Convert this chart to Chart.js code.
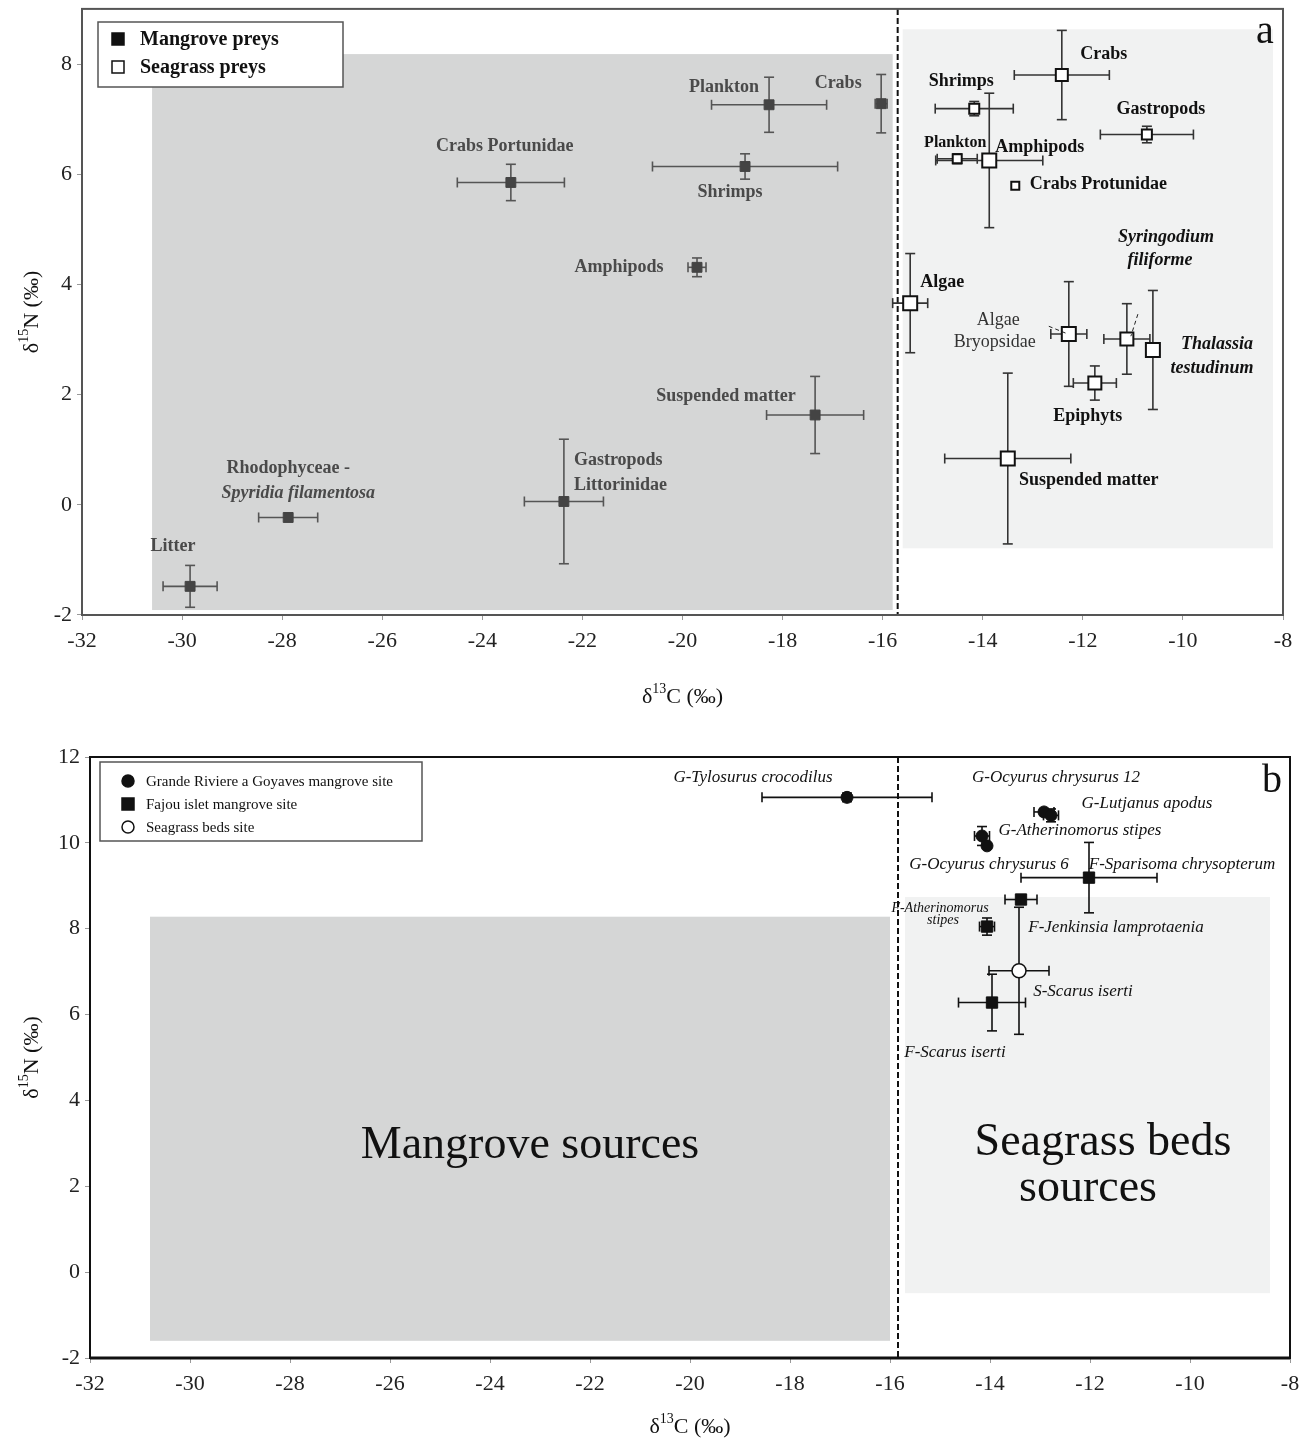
<!DOCTYPE html>
<html lang="en">
<head>
<meta charset="UTF-8">
<title>Isotope biplots</title>
<script src="https://cdn.jsdelivr.net/npm/chart.js"></script>
<style>
  body { margin: 0; background: #fff; overflow: hidden; }
  .wrap { position: absolute; left: 0; width: 1299px; }
  /* panel a is lifted 3px: Chart.js keeps room for the largest marker above the plot */
  #wa { top: -3px; height: 720px; }
  #wb { top: 720px; height: 723px; }
</style>
</head>
<body>
<div class="wrap" id="wa"><canvas id="chartA" width="1299" height="720"></canvas></div>
<div class="wrap" id="wb"><canvas id="chartB" width="1299" height="723"></canvas></div>
<script>
// ---- panel a : potential preys ----
const mangNames = ['Litter', 'Rhodophyceae - Spyridia filamentosa', 'Gastropods Littorinidae', 'Amphipods',
                   'Crabs Portunidae', 'Shrimps', 'Plankton', 'Crabs', 'Suspended matter'];
const mangC   = [-29.84, -27.88, -22.37, -19.71, -23.43, -18.75, -18.27, -16.03, -17.35];
const mangN   = [-1.48, -0.23, 0.06, 4.31, 5.85, 6.14, 7.26, 7.28, 1.63];
const mangCsd = [0.54, 0.59, 0.79, 0.18, 1.07, 1.85, 1.15, 0.12, 0.97];
const mangNsd = [0.38, 0, 1.13, 0.17, 0.33, 0.23, 0.5, 0.53, 0.7];

const seaNames = ['Crabs', 'Shrimps', 'Gastropods', 'Plankton', 'Amphipods', 'Crabs Protunidae', 'Algae',
                  'Algae Bryopsidae', 'Syringodium filiforme', 'Thalassia testudinum', 'Epiphyts', 'Suspended matter'];
const seaC   = [-12.42, -14.17, -10.72, -14.51, -13.87, -13.35, -15.45, -12.28, -11.12, -10.6, -11.76, -13.5];
const seaN   = [7.80, 7.19, 6.72, 6.28, 6.25, 5.79, 3.66, 3.10, 3.01, 2.81, 2.21, 0.84];
const seaCsd = [0.95, 0.78, 0.93, 0.4, 1.07, 0, 0.35, 0.36, 0.46, 0.1, 0.43, 1.26];
const seaNsd = [0.81, 0.13, 0.15, 0.09, 1.22, 0, 0.9, 0.95, 0.64, 1.08, 0.31, 1.55];
const seaSize = [12, 10, 10, 9, 14, 8, 14, 14, 13, 14, 13, 14];   // marker side, px

// ---- panel b : fishes ----
const gNames = ['G-Tylosurus crocodilus', 'G-Ocyurus chrysurus 12', 'G-Lutjanus apodus',
                'G-Atherinomorus stipes', 'G-Ocyurus chrysurus 6'];
const gC   = [-16.86, -12.92, -12.78, -14.16, -14.06];
const gN   = [11.06, 10.72, 10.64, 10.16, 9.93];
const gCsd = [1.7, 0.2, 0.15, 0.15, 0.05];
const gNsd = [0.1, 0.08, 0.15, 0.22, 0.05];

const fNames = ['F-Sparisoma chrysopterum', 'F-Jenkinsia lamprotaenia', 'F-Atherinomorus stipes', 'F-Scarus iserti'];
const fC   = [-12.02, -13.38, -14.06, -13.96];
const fN   = [9.19, 8.68, 8.05, 6.28];
const fCsd = [1.36, 0.32, 0.15, 0.67];
const fNsd = [0.82, 0.08, 0.2, 0.66];

const sNames = ['S-Scarus iserti'];
const sC   = [-13.42];
const sN   = [7.02];
const sCsd = [0.6];
const sNsd = [1.48];

const xTicks = [-32, -30, -28, -26, -24, -22, -20, -18, -16, -14, -12, -10, -8];

const SERIF = '"Liberation Serif", "DejaVu Serif", serif';

function pts(xs, ys) { return xs.map((v, i) => ({ x: v, y: ys[i] })); }

function line(ctx, x0, y0, x1, y1) {
  ctx.beginPath(); ctx.moveTo(x0, y0); ctx.lineTo(x1, y1); ctx.stroke();
}

// superscripted axis title, e.g. δ^13C (‰)
function supTitle(ctx, pre, sup, post, cx, cy, rot, size) {
  ctx.save();
  ctx.translate(cx, cy);
  if (rot) ctx.rotate(-Math.PI / 2);
  ctx.fillStyle = '#111';
  ctx.textBaseline = 'alphabetic';
  ctx.textAlign = 'left';
  const big = size + 'px ' + SERIF, small = Math.round(size * 0.62) + 'px ' + SERIF;
  ctx.font = big; const w1 = ctx.measureText(pre).width, w3 = ctx.measureText(post).width;
  ctx.font = small; const w2 = ctx.measureText(sup).width;
  let x = -(w1 + w2 + w3) / 2;
  const base = size * 0.35;
  ctx.font = big; ctx.fillText(pre, x, base); x += w1;
  ctx.font = small; ctx.fillText(sup, x, base - size * 0.42); x += w2;
  ctx.font = big; ctx.fillText(post, x, base);
  ctx.restore();
}

const isoPlugin = {
  id: 'iso',
  beforeDatasetsDraw(chart, args, o) {
    const { ctx, chartArea: a, scales: { x, y } } = chart;
    ctx.save();
    o.boxes.forEach(b => {
      const x0 = x.getPixelForValue(b.x0), x1 = x.getPixelForValue(b.x1);
      const y0 = y.getPixelForValue(b.y0), y1 = y.getPixelForValue(b.y1);
      ctx.fillStyle = b.color;
      ctx.fillRect(x0, y1, x1 - x0, y0 - y1);
    });
    // divider
    const dx = x.getPixelForValue(o.divider);
    ctx.strokeStyle = '#111'; ctx.lineWidth = 2; ctx.setLineDash([6, 3]);
    line(ctx, dx, a.top, dx, a.bottom);
    ctx.setLineDash([]);
    // error bars
    chart.data.datasets.forEach(ds => {
      if (!ds.errX) return;
      ctx.strokeStyle = ds.errColor; ctx.lineWidth = 1.6;
      ds.data.forEach((p, i) => {
        const px = x.getPixelForValue(p.x), py = y.getPixelForValue(p.y);
        const ex = ds.errX[i], ey = ds.errY[i], c = 5;
        if (ex) {
          const l = x.getPixelForValue(p.x - ex), r = x.getPixelForValue(p.x + ex);
          line(ctx, l, py, r, py); line(ctx, l, py - c, l, py + c); line(ctx, r, py - c, r, py + c);
        }
        if (ey) {
          const t = y.getPixelForValue(p.y + ey), b = y.getPixelForValue(p.y - ey);
          line(ctx, px, t, px, b); line(ctx, px - c, t, px + c, t); line(ctx, px - c, b, px + c, b);
        }
      });
    });
    ctx.restore();
  },
  afterDatasetsDraw(chart, args, o) {
    const { ctx, chartArea: a, scales: { x, y } } = chart;
    ctx.save();
    // leader lines
    ctx.strokeStyle = '#222'; ctx.lineWidth = 1; ctx.setLineDash([4, 3]);
    (o.leaders || []).forEach(l => line(ctx, x.getPixelForValue(l[0]), y.getPixelForValue(l[1]),
                                          x.getPixelForValue(l[2]), y.getPixelForValue(l[3])));
    ctx.setLineDash([]);
    // point labels
    ctx.textBaseline = 'middle';
    o.labels.forEach(l => {
      ctx.font = l.f; ctx.fillStyle = l.c || '#111'; ctx.textAlign = l.al || 'center';
      ctx.fillText(l.t, x.getPixelForValue(l.x), y.getPixelForValue(l.y));
    });
    // legend box
    const lg = o.legend;
    ctx.fillStyle = '#fff'; ctx.fillRect(lg.x, lg.y, lg.w, lg.h);
    ctx.strokeStyle = '#555'; ctx.lineWidth = 1.5; ctx.strokeRect(lg.x, lg.y, lg.w, lg.h);
    lg.items.forEach((it, i) => {
      const cy = lg.y + lg.first + i * lg.gap, cx = lg.x + lg.mx;
      ctx.fillStyle = it.fill; ctx.strokeStyle = '#111'; ctx.lineWidth = 1.5;
      ctx.beginPath();
      if (it.shape === 'circle') ctx.arc(cx, cy, lg.ms / 2, 0, Math.PI * 2);
      else ctx.rect(cx - lg.ms / 2, cy - lg.ms / 2, lg.ms, lg.ms);
      ctx.fill(); ctx.stroke();
      ctx.font = lg.font; ctx.fillStyle = '#111'; ctx.textAlign = 'left';
      ctx.fillText(it.t, lg.x + lg.tx, cy + 1);
    });
    // panel letter
    ctx.font = '40px ' + SERIF; ctx.fillStyle = '#111'; ctx.textAlign = 'center';
    ctx.fillText(o.letter, a.right - 18, a.top + 24);
    // frame
    ctx.strokeStyle = o.frame; ctx.lineWidth = 2;
    ctx.strokeRect(a.left, a.top, a.right - a.left, a.bottom - a.top);
    ctx.lineWidth = o.bottomW; line(ctx, a.left, a.bottom, a.right, a.bottom);
    // axis titles
    supTitle(ctx, 'δ', '13', 'C (‰)', (a.left + a.right) / 2, a.bottom + o.xTitleOff, false, 22);
    supTitle(ctx, 'δ', '15', 'N (‰)', 30, (a.top + a.bottom) / 2, true, 22);
    ctx.restore();
  }
};

function scales(yMin, yMax, yWidth, xHeight) {
  const tickFont = { family: SERIF, size: 22 };
  return {
    x: {
      type: 'linear', min: -32, max: -8,
      afterBuildTicks: s => { s.ticks = xTicks.map(v => ({ value: v })); },
      ticks: { font: tickFont, color: '#222', padding: 8, maxRotation: 0, autoSkip: false },
      grid: { drawOnChartArea: false, drawTicks: true, tickLength: 5, color: '#999' },
      border: { display: false },
      afterFit: s => { s.height = xHeight; s.paddingLeft = 0; s.paddingRight = 0; }
    },
    y: {
      type: 'linear', min: yMin, max: yMax,
      ticks: { stepSize: 2, includeBounds: false, font: tickFont, color: '#222', padding: 5 },
      grid: { drawOnChartArea: false, drawTicks: true, tickLength: 5, color: '#999' },
      border: { display: false },
      afterFit: s => { s.width = yWidth; s.paddingTop = 0; s.paddingBottom = 0; }
    }
  };
}

const LA = 'bold 18px ' + SERIF, LAI = 'italic bold 18px ' + SERIF, LR = '18px ' + SERIF;
const GREY = '#4a4a4a';

new Chart(document.getElementById('chartA'), {
  type: 'scatter',
  data: {
    datasets: [
      { label: 'Mangrove preys', data: pts(mangC, mangN), errX: mangCsd, errY: mangNsd, errColor: '#555',
        pointStyle: 'rect', pointRadius: 7, backgroundColor: '#444', borderColor: '#444', borderWidth: 1 },
      { label: 'Seagrass preys', data: pts(seaC, seaN), errX: seaCsd, errY: seaNsd, errColor: '#333',
        pointStyle: 'rect', pointRadius: seaSize.map(s => s / 1.414), backgroundColor: '#fff',
        borderColor: '#111', borderWidth: 2 }
    ]
  },
  options: {
    responsive: false, animation: false, events: [],
    layout: { padding: { top: 5, right: 16, left: 0, bottom: 0 } },
    scales: scales(-2, 9, 82, 102),
    plugins: {
      legend: { display: false }, tooltip: { enabled: false },
      iso: {
        divider: -15.7, letter: 'a', frame: '#555', bottomW: 2, xTitleOff: 80,
        boxes: [
          { x0: -30.6, x1: -15.8, y0: -1.91, y1: 8.18, color: '#d5d6d6' },
          { x0: -15.6, x1: -8.2, y0: -0.79, y1: 8.63, color: '#f1f2f2' }
        ],
        leaders: [[-12.68, 3.24, -12.3, 3.1], [-10.9, 3.46, -11.04, 3.06]],
        labels: [
          { t: 'Plankton', x: -19.17, y: 7.57, f: LA, c: GREY },
          { t: 'Crabs', x: -16.89, y: 7.64, f: LA, c: GREY },
          { t: 'Crabs Portunidae', x: -23.55, y: 6.5, f: LA, c: GREY },
          { t: 'Shrimps', x: -19.05, y: 5.67, f: LA, c: GREY },
          { t: 'Amphipods', x: -21.27, y: 4.31, f: LA, c: GREY },
          { t: 'Suspended matter', x: -19.13, y: 1.96, f: LA, c: GREY },
          { t: 'Gastropods', x: -22.17, y: 0.8, f: LA, c: GREY, al: 'left' },
          { t: 'Littorinidae', x: -22.17, y: 0.35, f: LA, c: GREY, al: 'left' },
          { t: 'Rhodophyceae -', x: -27.88, y: 0.66, f: LA, c: GREY },
          { t: 'Spyridia filamentosa', x: -27.68, y: 0.21, f: LAI, c: GREY },
          { t: 'Litter', x: -30.18, y: -0.75, f: LA, c: GREY },
          { t: 'Crabs', x: -11.58, y: 8.18, f: LA },
          { t: 'Shrimps', x: -14.43, y: 7.69, f: LA },
          { t: 'Gastropods', x: -10.44, y: 7.17, f: LA },
          { t: 'Plankton', x: -14.55, y: 6.57, f: 'bold 16px ' + SERIF },
          { t: 'Amphipods', x: -12.86, y: 6.48, f: LA },
          { t: 'Crabs Protunidae', x: -13.06, y: 5.81, f: LA, al: 'left' },
          { t: 'Syringodium', x: -10.34, y: 4.85, f: LAI },
          { t: 'filiforme', x: -10.46, y: 4.44, f: LAI },
          { t: 'Algae', x: -14.81, y: 4.04, f: LA },
          { t: 'Algae', x: -13.69, y: 3.35, f: LR, c: '#333' },
          { t: 'Bryopsidae', x: -13.76, y: 2.95, f: LR, c: '#333' },
          { t: 'Thalassia', x: -9.32, y: 2.92, f: LAI },
          { t: 'testudinum', x: -9.42, y: 2.48, f: LAI },
          { t: 'Epiphyts', x: -11.9, y: 1.6, f: LA },
          { t: 'Suspended matter', x: -11.88, y: 0.44, f: LA }
        ],
        legend: {
          x: 98, y: 25, w: 245, h: 65, first: 17, gap: 28, mx: 20, tx: 42, ms: 12,
          font: 'bold 20px ' + SERIF,
          items: [
            { t: 'Mangrove preys', shape: 'rect', fill: '#111' },
            { t: 'Seagrass preys', shape: 'rect', fill: '#fff' }
          ]
        }
      }
    }
  },
  plugins: [isoPlugin]
});

const LB = 'italic 17px ' + SERIF;

new Chart(document.getElementById('chartB'), {
  type: 'scatter',
  data: {
    datasets: [
      { label: 'Grande Riviere a Goyaves mangrove site', data: pts(gC, gN), errX: gCsd, errY: gNsd, errColor: '#111',
        pointStyle: 'circle', pointRadius: 6, backgroundColor: '#111', borderColor: '#111', borderWidth: 1 },
      { label: 'Fajou islet mangrove site', data: pts(fC, fN), errX: fCsd, errY: fNsd, errColor: '#111',
        pointStyle: 'rect', pointRadius: 8, backgroundColor: '#111', borderColor: '#111', borderWidth: 1 },
      { label: 'Seagrass beds site', data: pts(sC, sN), errX: sCsd, errY: sNsd, errColor: '#111',
        pointStyle: 'circle', pointRadius: 7, backgroundColor: '#fff', borderColor: '#111', borderWidth: 1.5 }
    ]
  },
  options: {
    responsive: false, animation: false, events: [],
    layout: { padding: { top: 37, right: 9, left: 0, bottom: 0 } },
    scales: scales(-2, 12, 90, 85),
    plugins: {
      legend: { display: false }, tooltip: { enabled: false },
      iso: {
        divider: -15.84, letter: 'b', frame: '#111', bottomW: 3, xTitleOff: 67,
        boxes: [
          { x0: -30.8, x1: -16.0, y0: -1.6, y1: 8.28, color: '#d5d6d6' },
          { x0: -15.7, x1: -8.4, y0: -0.49, y1: 8.74, color: '#f1f2f2' }
        ],
        labels: [
          { t: 'G-Tylosurus crocodilus', x: -18.74, y: 11.53, f: LB },
          { t: 'G-Ocyurus chrysurus 12', x: -12.68, y: 11.53, f: LB },
          { t: 'G-Lutjanus apodus', x: -10.86, y: 10.91, f: LB },
          { t: 'G-Atherinomorus stipes', x: -12.2, y: 10.28, f: LB },
          { t: 'G-Ocyurus chrysurus 6', x: -14.02, y: 9.49, f: LB },
          { t: 'F-Sparisoma chrysopterum', x: -10.16, y: 9.49, f: LB },
          { t: 'F-Atherinomorus', x: -15.0, y: 8.47, f: 'italic 14px ' + SERIF },
          { t: 'stipes', x: -14.94, y: 8.19, f: 'italic 14px ' + SERIF },
          { t: 'F-Jenkinsia lamprotaenia', x: -11.48, y: 8.02, f: LB },
          { t: 'S-Scarus iserti', x: -12.14, y: 6.53, f: LB },
          { t: 'F-Scarus iserti', x: -14.7, y: 5.12, f: LB },
          { t: 'Mangrove sources', x: -23.2, y: 2.95, f: '46px ' + SERIF },
          { t: 'Seagrass beds', x: -11.74, y: 3.02, f: '46px ' + SERIF },
          { t: 'sources', x: -12.04, y: 1.95, f: '46px ' + SERIF }
        ],
        legend: {
          x: 100, y: 42, w: 322, h: 79, first: 19, gap: 23, mx: 28, tx: 46, ms: 12,
          font: '15px ' + SERIF,
          items: [
            { t: 'Grande Riviere a Goyaves mangrove site', shape: 'circle', fill: '#111' },
            { t: 'Fajou islet mangrove site', shape: 'rect', fill: '#111' },
            { t: 'Seagrass beds site', shape: 'circle', fill: '#fff' }
          ]
        }
      }
    }
  },
  plugins: [isoPlugin]
});
</script>
</body>
</html>
